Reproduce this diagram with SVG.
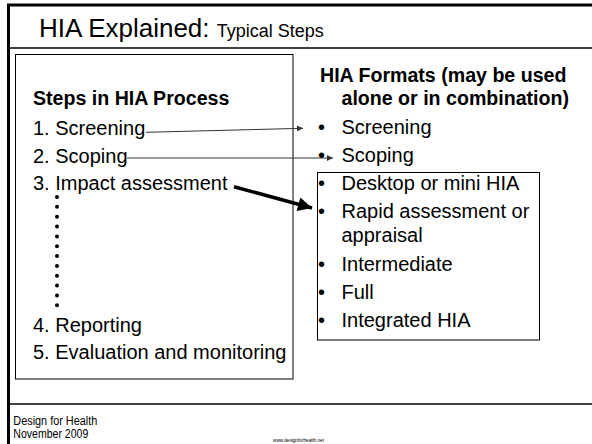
<svg xmlns="http://www.w3.org/2000/svg" width="592" height="444" viewBox="0 0 592 444">
<style>
text{font-family:"Liberation Sans",Arial,sans-serif;fill:#000}
.b{font-size:20px}
.h{font-size:19.6px;font-weight:bold}
.f{font-size:12px}
.box{fill:none;stroke:#000;stroke-width:1}
.thin{fill:none;stroke:#333;stroke-width:1}
</style>
<defs>
<marker id="ah" viewBox="0 0 10 10" refX="10" refY="5" markerWidth="7" markerHeight="6" markerUnits="userSpaceOnUse" orient="auto"><path d="M0,0 L10,5 L0,10 z" fill="#333"/></marker>
<marker id="ahb" viewBox="0 0 10 10" refX="10" refY="5" markerWidth="16" markerHeight="14" markerUnits="userSpaceOnUse" orient="auto"><path d="M0,0 L10,5 L0,10 z" fill="#000"/></marker>
</defs>
<rect width="592" height="444" fill="#fff"/>
<g id="frame">
<line x1="7" y1="5" x2="592" y2="5" stroke="#000" stroke-width="3"/>
<line x1="8.5" y1="4" x2="8.5" y2="444" stroke="#000" stroke-width="3"/>
<line x1="8" y1="48" x2="592" y2="48" stroke="#000" stroke-width="1.5"/>
<line x1="8" y1="404" x2="592" y2="404" stroke="#000" stroke-width="1.5"/>
</g>
<g id="title">
<text x="39" y="37" font-size="26">HIA Explained: <tspan font-size="18">Typical Steps</tspan></text>
</g>
<g id="steps">
<rect class="box" x="15.5" y="54.5" width="277.5" height="324.5"/>
<text class="h" x="33" y="105">Steps in HIA Process</text>
<text class="b" x="33" y="135">1. Screening</text>
<text class="b" x="33" y="162.5">2. Scoping</text>
<text class="b" x="33" y="190">3. Impact assessment</text>
<g fill="#000">
<circle cx="57" cy="197" r="2"/><circle cx="57" cy="206.8" r="2"/><circle cx="57" cy="216.7" r="2"/><circle cx="57" cy="226.5" r="2"/><circle cx="57" cy="236.4" r="2"/><circle cx="57" cy="246.2" r="2"/><circle cx="57" cy="256" r="2"/><circle cx="57" cy="265.9" r="2"/><circle cx="57" cy="275.7" r="2"/><circle cx="57" cy="285.6" r="2"/><circle cx="57" cy="295.4" r="2"/><circle cx="57" cy="305.2" r="2"/>
</g>
<text class="b" x="33" y="331.5">4. Reporting</text>
<text class="b" x="33" y="359">5. Evaluation and monitoring</text>
</g>
<g id="formats">
<text class="h" x="320" y="82">HIA Formats (may be used</text>
<text class="h" x="341.5" y="105">alone or in combination)</text>
<text class="b" x="318" y="134">•</text><text class="b" x="341.5" y="134">Screening</text>
<text class="b" x="318" y="161.5">•</text><text class="b" x="341.5" y="161.5">Scoping</text>
</g>
<g id="format-box">
<rect class="box" x="317.5" y="172.5" width="222" height="167.5"/>
<text class="b" x="318" y="190">•</text><text class="b" x="341.5" y="190">Desktop or mini HIA</text>
<text class="b" x="318" y="218">•</text><text class="b" x="341.5" y="218">Rapid assessment or</text>
<text class="b" x="341.5" y="241.5">appraisal</text>
<text class="b" x="318" y="271">•</text><text class="b" x="341.5" y="271">Intermediate</text>
<text class="b" x="318" y="299">•</text><text class="b" x="341.5" y="299">Full</text>
<text class="b" x="318" y="327">•</text><text class="b" x="341.5" y="327">Integrated HIA</text>
</g>
<g id="connectors">
<line class="thin" x1="146" y1="132.3" x2="303" y2="128.3" marker-end="url(#ah)"/>
<line class="thin" x1="127" y1="158" x2="333" y2="158" marker-end="url(#ah)"/>
<line x1="234" y1="186.7" x2="312" y2="208" stroke="#000" stroke-width="3.5" marker-end="url(#ahb)"/>
</g>
<g id="footer">
<text class="f" x="13.3" y="425" textLength="84" lengthAdjust="spacingAndGlyphs">Design for Health</text>
<text class="f" x="13.3" y="437.5" textLength="75" lengthAdjust="spacingAndGlyphs">November 2009</text>
<text x="273" y="442" font-size="5" fill="#555" textLength="51" lengthAdjust="spacingAndGlyphs">www.designforhealth.net</text>
</g>
</svg>
